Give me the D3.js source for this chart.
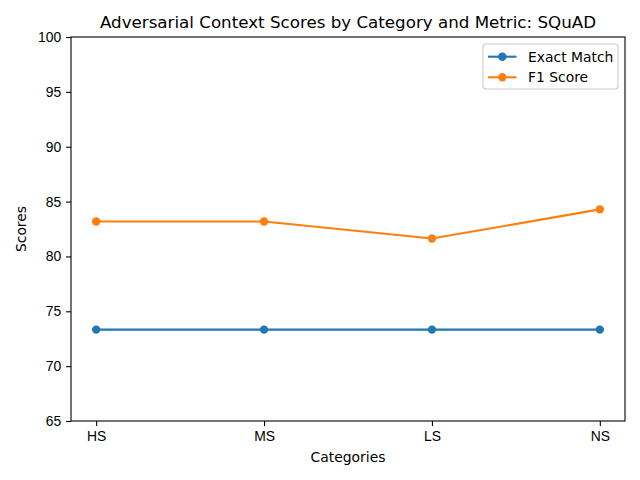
<!DOCTYPE html>
<html>
<head>
<meta charset="utf-8">
<script src="https://cdn.jsdelivr.net/npm/d3@7"></script>
<style>
  body { margin: 0; background: #fff; }
  svg { font-family: "DejaVu Sans", sans-serif; }
</style>
</head>
<body>
<svg id="chart" width="640" height="480"></svg>
<script>
var categories = ["HS", "MS", "LS", "NS"];
var exactMatch = [73.33, 73.33, 73.33, 73.33];
var f1Score = [83.18, 83.18, 81.63, 84.29];
var yTicks = [65, 70, 75, 80, 85, 90, 95, 100];
var seriesNames = ["Exact Match", "F1 Score"];
var colors = ["#1f77b4", "#ff7f0e"];

var svg = d3.select("#chart");
var margin = {top: 37, right: 15, bottom: 59, left: 71},
    width = 640 - margin.left - margin.right,
    height = 480 - margin.top - margin.bottom;

var g = svg.append("g").attr("transform", "translate(" + margin.left + "," + margin.top + ")");

// matplotlib style 5% margins on categorical x
var x = d3.scaleLinear().domain([-0.15, categories.length - 1 + 0.15]).range([0, width]);
var y = d3.scaleLinear().domain([65, 100]).range([height, 0]);

var xAxis = g.append("g")
    .attr("transform", "translate(0," + height + ")")
    .call(d3.axisBottom(x).tickValues(d3.range(categories.length))
      .tickFormat(function(d){ return categories[d]; })
      .tickSize(4.9).tickPadding(4.9));

var yAxis = g.append("g")
    .call(d3.axisLeft(y).tickValues(yTicks).tickSize(4.9).tickPadding(4.9));

[xAxis, yAxis].forEach(function(a){
  a.select(".domain").remove();
  a.selectAll("text").style("font-size", "13.9px").attr("fill", "#000");
  a.selectAll("line").attr("stroke", "#000").attr("stroke-width", 1.1);
});

var series = [exactMatch, f1Score];
var line = d3.line()
    .x(function(d, i){ return x(i); })
    .y(function(d){ return y(d); });

series.forEach(function(vals, k){
  g.append("path")
    .datum(vals)
    .attr("fill", "none")
    .attr("stroke", colors[k])
    .attr("stroke-width", 2.1)
    .attr("d", line);
  g.selectAll(".pt" + k)
    .data(vals)
    .enter().append("circle")
      .attr("cx", function(d, i){ return x(i); })
      .attr("cy", function(d){ return y(d); })
      .attr("r", 4.2)
      .attr("fill", colors[k]);
});

g.append("rect")
  .attr("width", width).attr("height", height)
  .attr("fill", "none").attr("stroke", "#000").attr("stroke-width", 1.1);

// legend
var legend = g.append("g").attr("transform", "translate(" + (width - 142) + ",7)");
legend.append("rect")
  .attr("width", 135).attr("height", 45).attr("rx", 3)
  .attr("fill", "#fff").attr("fill-opacity", 0.8)
  .attr("stroke", "#ccc").attr("stroke-width", 1.1);
seriesNames.forEach(function(name, k){
  var ly = 12.7 + k * 20.6;
  legend.append("line")
    .attr("x1", 5).attr("x2", 33.5).attr("y1", ly).attr("y2", ly)
    .attr("stroke", colors[k]).attr("stroke-width", 2.1);
  legend.append("circle").attr("cx", 19.3).attr("cy", ly).attr("r", 4.2).attr("fill", colors[k]);
  legend.append("text")
    .attr("x", 45).attr("y", ly).attr("dy", "0.35em")
    .style("font-size", "13.9px").text(name);
});

svg.append("text")
  .attr("x", margin.left + width / 2).attr("y", 28)
  .attr("text-anchor", "middle").style("font-size", "16.7px")
  .text("Adversarial Context Scores by Category and Metric: SQuAD");

svg.append("text")
  .attr("x", margin.left + width / 2).attr("y", 462)
  .attr("text-anchor", "middle").style("font-size", "13.9px")
  .text("Categories");

svg.append("text")
  .attr("transform", "translate(26," + (margin.top + height / 2) + ") rotate(-90)")
  .attr("text-anchor", "middle").style("font-size", "13.9px")
  .text("Scores");
</script>
</body>
</html>
